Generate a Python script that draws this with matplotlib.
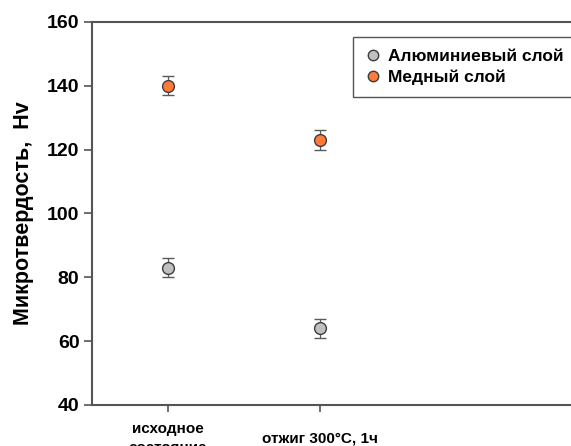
import matplotlib
import matplotlib.pyplot as plt
import numpy as np

matplotlib.use("Agg")

plt.rcParams["font.family"] = ["Liberation Sans", "DejaVu Sans"]
plt.rcParams["font.weight"] = "bold"

categories = ["исходное\nсостояние", "отжиг 300°С, 1ч"]
al_values = [83, 64]
al_err = [3, 3]
cu_values = [140, 123]
cu_err = [3, 3]

COLORS = {"al": "#C0C0C0", "cu": "#FF7B3A", "edge": "#3C3C3C", "err": "#5A5A5A", "spine": "#555555"}

fig = plt.figure(figsize=(5.71, 4.46), dpi=100)
ax = fig.add_axes([0.161, 0.092, 0.932, 0.859])

x = np.arange(1, len(categories) + 1)
ax.errorbar(x, al_values, yerr=al_err, fmt="o", ms=8.5, mfc=COLORS["al"], mec=COLORS["edge"],
            mew=1.0, ecolor=COLORS["err"], elinewidth=0.9, capsize=4, capthick=0.9,
            label="Алюминиевый слой", zorder=3)
ax.errorbar(x, cu_values, yerr=cu_err, fmt="o", ms=8.5, mfc=COLORS["cu"], mec=COLORS["edge"],
            mew=1.0, ecolor=COLORS["err"], elinewidth=0.9, capsize=4, capthick=0.9,
            label="Медный слой", zorder=3)

ax.set_xlim(0.5, 4.0)
ax.set_ylim(40, 160)
ax.set_yticks(range(40, 161, 20))
ax.set_xticks(x)
ax.set_xticklabels(categories, fontsize=11, fontweight="bold", linespacing=1.45)
for lbl in ax.get_xticklabels():
    lbl.set_verticalalignment("center")
ax.tick_params(axis="x", pad=19, direction="out", length=5, width=1.2, color=COLORS["spine"])
ax.tick_params(axis="y", labelsize=14, direction="out", length=6, width=1.2,
               color=COLORS["spine"], pad=3)
for lbl in ax.get_yticklabels():
    lbl.set_fontweight("bold")

ax.set_ylabel("Микротвердость,  Hv", fontsize=15.5, fontweight="bold", labelpad=9)

for s in ax.spines.values():
    s.set_color(COLORS["spine"])
    s.set_linewidth(1.5)

handles, labels = ax.get_legend_handles_labels()
handles = [h[0] for h in handles]
leg = ax.legend(handles, labels, loc="upper left",
                bbox_to_anchor=(353 / 571, 0, 0.4, 1 - 37 / 446), mode="expand",
                bbox_transform=fig.transFigure, prop={"weight": "bold", "size": 12.5},
                frameon=True, fancybox=False, edgecolor="#555555", framealpha=1,
                handletextpad=0.45, handlelength=0.9, borderpad=0.68, labelspacing=0.33,
                borderaxespad=0)
leg.get_frame().set_linewidth(1.0)
for h in leg.legend_handles:
    h.set_markersize(7.5)

fig.savefig("out.png", dpi=100)
